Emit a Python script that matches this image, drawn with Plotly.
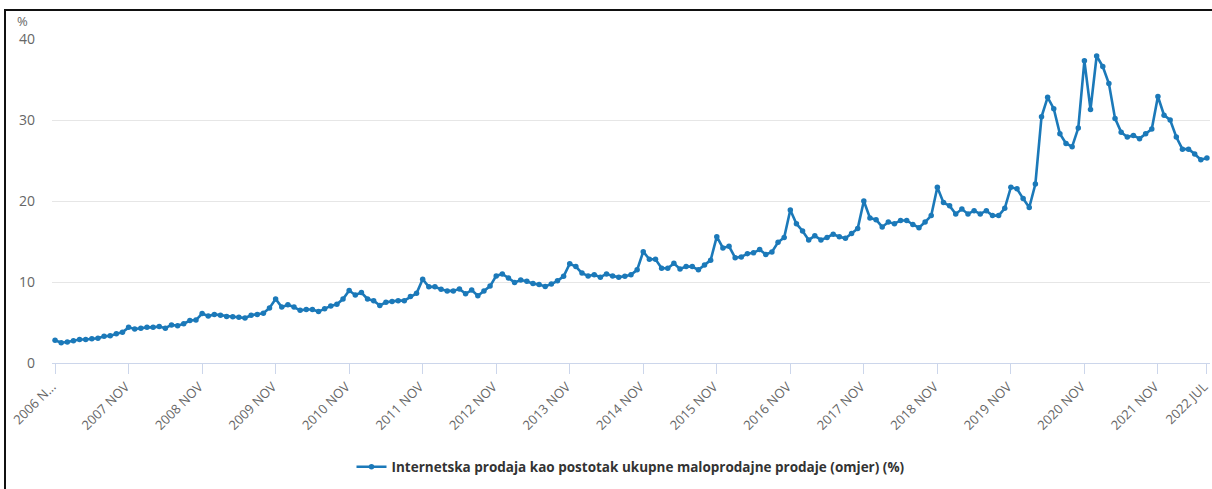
import plotly.graph_objects as go

# ---- data ----
start_year, start_month = 2006, 11
n_points = 189
months = []
y, m = start_year, start_month
for _ in range(n_points):
    months.append(f"{y}M{m:02d}")
    m += 1
    if m > 12:
        m = 1
        y += 1

share_pct = [
    2.8, 2.5, 2.6, 2.75, 2.9, 2.9, 3.0, 3.05, 3.3, 3.35, 3.6, 3.8,
    4.4, 4.2, 4.3, 4.4, 4.4, 4.5, 4.3, 4.7, 4.6, 4.85, 5.25, 5.3,
    6.1, 5.8, 6.0, 5.9, 5.75, 5.7, 5.65, 5.55, 5.9, 6.0, 6.15, 6.8,
    7.9, 6.9, 7.2, 6.9, 6.5, 6.6, 6.6, 6.35, 6.7, 7.05, 7.25, 7.9,
    8.95, 8.4, 8.7, 7.9, 7.7, 7.1, 7.5, 7.6, 7.7, 7.7, 8.2, 8.6,
    10.35, 9.4, 9.4, 9.1, 8.9, 8.9, 9.15, 8.55, 9.0, 8.3, 8.9, 9.5,
    10.75, 11.0, 10.5, 9.95, 10.25, 10.1, 9.8, 9.7, 9.45, 9.75, 10.15, 10.7,
    12.25, 11.9, 11.1, 10.75, 10.9, 10.6, 11.0, 10.75, 10.6, 10.7, 10.9, 11.5,
    13.75, 12.8, 12.8, 11.7, 11.7, 12.3, 11.6, 11.9, 11.9, 11.5, 12.1, 12.7,
    15.6, 14.2, 14.4, 13.0, 13.1, 13.5, 13.6, 14.0, 13.4, 13.7, 14.9, 15.5,
    18.9, 17.2, 16.3, 15.2, 15.7, 15.2, 15.5, 15.9, 15.6, 15.4, 16.0, 16.6,
    20.0, 17.9, 17.7, 16.8, 17.4, 17.2, 17.6, 17.6, 17.1, 16.7, 17.4, 18.2,
    21.7, 19.8, 19.4, 18.4, 19.0, 18.4, 18.8, 18.4, 18.8, 18.2, 18.2, 19.1,
    21.7, 21.5, 20.3, 19.2, 22.1, 30.4, 32.8, 31.4, 28.3, 27.1, 26.7, 29.0,
    37.3, 31.3, 37.9, 36.6, 34.5, 30.2, 28.5, 27.9, 28.1, 27.7, 28.3, 28.9,
    32.9, 30.6, 30.0, 27.9, 26.4, 26.4, 25.8, 25.1, 25.3,
]

tick_vals = [f"{yr}M11" for yr in range(2006, 2022)] + ["2022M07"]
tick_text = ["2006 N..."] + [f"{yr} NOV" for yr in range(2007, 2022)] + ["2022 JUL"]

y_ticks = [0, 10, 20, 30, 40]
series_name = "Internetska prodaja kao postotak ukupne maloprodajne prodaje (omjer) (%)"

# ---- figure ----
W, H = 1212, 489
ML, MR, MT, MB = 52, 2, 39, 126
pw, ph = W - ML - MR, H - MT - MB

def px_x(p):
    return (p - ML) / pw

def px_y(p):
    return (H - MB - p) / ph

color = "#1b79b9"
fig = go.Figure()
fig.add_trace(go.Scatter(
    x=months, y=share_pct, mode="lines+markers", name=series_name,
    line=dict(color=color, width=2.6),
    marker=dict(color=color, size=5.5),
    showlegend=True,
))

fig.update_layout(
    width=W, height=H,
    margin=dict(l=ML, r=MR, t=MT, b=MB, autoexpand=False),
    paper_bgcolor="white", plot_bgcolor="white",
    font=dict(family="Open Sans", color="#666666"),
    showlegend=True,
    legend=dict(
        orientation="h", x=0.5, xanchor="center", y=px_y(467), yanchor="middle",
        font=dict(family="Open Sans", size=13.5, color="#333333", weight=700),
        itemwidth=30,
    ),
    xaxis=dict(
        type="category", categoryorder="array", categoryarray=months,
        range=[-0.5, n_points - 0.5],
        tickmode="array", tickvals=tick_vals, ticktext=tick_text,
        tickangle=-45, tickfont=dict(size=13, color="#666666"),
        ticklabelshift=-3,
        ticks="outside", ticklen=10, tickcolor="#ccd6eb", tickwidth=1,
        showline=True, linecolor="#ccd6eb", linewidth=1,
        showgrid=False, zeroline=False, automargin=False,
    ),
    yaxis=dict(
        range=[0, 40], tickvals=y_ticks,
        tickfont=dict(size=14, color="#666666"),
        showgrid=True, gridcolor="#e6e6e6", gridwidth=1,
        zeroline=False, showline=False, ticks="",
        ticklabelstandoff=16, automargin=False,
    ),
    annotations=[dict(
        text="%", xref="paper", yref="paper", x=px_x(22), y=px_y(21),
        xanchor="center", yanchor="middle", showarrow=False,
        font=dict(family="Open Sans", size=13, color="#666666"),
    )],
    shapes=[
        dict(type="line", xref="paper", yref="paper",
             x0=px_x(5), x1=px_x(5), y0=px_y(10), y1=px_y(492),
             line=dict(color="#111111", width=2)),
        dict(type="line", xref="paper", yref="paper",
             x0=px_x(4), x1=px_x(1215), y0=px_y(10), y1=px_y(10),
             line=dict(color="#111111", width=2)),
    ],
)

fig.write_html(
    "out.html",
    config={"displayModeBar": False},
    post_script="document.body.style.margin='0';document.body.style.padding='0';",
)
